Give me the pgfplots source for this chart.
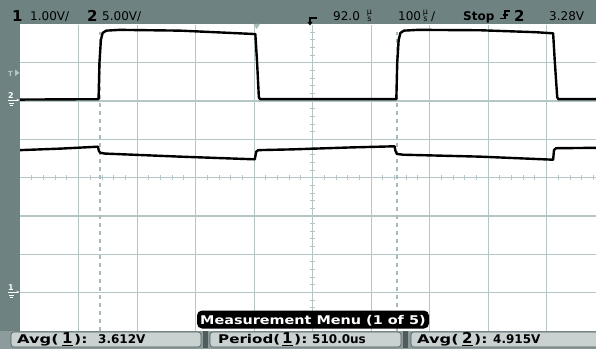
\documentclass[border=0pt]{standalone}
\usepackage{fontspec}
\setmainfont{DejaVu Sans}
\usepackage{pgfplots}
\pgfplotsset{compat=1.18}
\usetikzlibrary{arrows.meta}
\definecolor{barc}{HTML}{6E8282}
\definecolor{gridc}{HTML}{B4C6C6}
\definecolor{curc}{HTML}{A8BABA}
\definecolor{botbg}{HTML}{8C9C9C}
\definecolor{boxc}{HTML}{C9D1D1}
\definecolor{sepc}{HTML}{505C5C}
\newcommand{\tfont}{\fontsize{12}{14}\selectfont}
\newcommand{\bfont}{\fontsize{12}{14}\selectfont\bfseries}
\newcommand{\gfont}{\fontsize{15}{16}\selectfont\bfseries}
\newcommand{\sfont}{\fontsize{8}{5}\selectfont}
\begin{document}
\begin{tikzpicture}
\useasboundingbox (0,0) rectangle (596pt,349pt);
\fill[white] (0,0) rectangle (596pt,349pt);
\begin{axis}[at={(20pt,18.1pt)}, anchor=south west, scale only axis,
  width=576pt, height=306.4pt,
  xmin=-5.003, xmax=4.843, ymin=-4, ymax=4,
  xtick={-4,...,4}, ytick={-3,...,3},
  xticklabels={}, yticklabels={},
  grid=major, major grid style={gridc, line width=1.3pt},
  tick style={draw=none}, axis line style={draw=none}, clip=true]
\pgfplotsinvokeforeach{-4.8,-4.6,...,4.81}{\draw[gridc, line width=1pt] (axis cs:#1,-0.06) -- (axis cs:#1,0.06);}
\pgfplotsinvokeforeach{-3.8,-3.6,...,3.81}{\draw[gridc, line width=1pt] (axis cs:-0.04,#1) -- (axis cs:0.04,#1);}
\addplot[curc, line width=1.6pt, dash pattern=on 4pt off 4pt] coordinates {(-3.64,-4) (-3.64,3.8)};
\addplot[curc, line width=1.6pt, dash pattern=on 4pt off 4pt] coordinates {(1.44,-4) (1.44,3.8)};
% channel 2 (upper)
\addplot[black, line width=2.4pt, line join=round] coordinates {
(-5.00,2.04) (-3.66,2.05) (-3.645,3.0) (-3.62,3.6) (-3.59,3.78) (-3.53,3.84) (-3.3,3.86)
(-2.27,3.84) (-1.4,3.78) (-0.98,3.75) (-0.95,3.0) (-0.92,2.1) (-0.90,2.05)
(1.43,2.05) (1.445,3.0) (1.47,3.6) (1.50,3.78) (1.56,3.84) (1.8,3.86) (2.86,3.85)
(3.8,3.80) (4.11,3.77) (4.14,3.0) (4.18,2.1) (4.20,2.05) (4.84,2.05)};
% channel 1 (lower)
\addplot[black, line width=2.4pt, line join=round] coordinates {
(-5.00,0.72) (-4.3,0.76) (-3.67,0.81) (-3.655,0.70) (-3.63,0.65) (-3.55,0.63)
(-2.27,0.55) (-0.99,0.48) (-0.965,0.68) (-0.93,0.72) (-0.34,0.74) (0.64,0.79)
(1.40,0.82) (1.415,0.70) (1.44,0.62) (1.55,0.60) (2.86,0.55) (4.11,0.47)
(4.125,0.72) (4.16,0.77) (4.84,0.78)};
\end{axis}
\begin{scope}[x=1pt,y=1pt]
% top bar and left panel
\fill[barc] (0,325) rectangle (596,349);
\fill[barc] (0,18) rectangle (20,349);
% bottom bar
\fill[botbg] (0,0) rectangle (596,18.5);
\filldraw[fill=boxc, draw=sepc, line width=0.6pt, rounded corners=3pt] (11,2) rectangle (201,17);
\filldraw[fill=boxc, draw=sepc, line width=0.6pt, rounded corners=3pt] (210,2) rectangle (401,17);
\filldraw[fill=boxc, draw=sepc, line width=0.6pt, rounded corners=3pt] (411,2) rectangle (600,17);
\fill[sepc] (202.5,1) rectangle (207.5,18);
\fill[sepc] (403,1) rectangle (408,18);
% top bar texts
\node[anchor=base west, inner sep=0, font=\gfont] at (12,327.5) {1};
\node[anchor=base west, inner sep=0, font=\tfont] at (30,328.5) {1.00V/};
\node[anchor=base west, inner sep=0, font=\gfont] at (87,327.5) {2};
\node[anchor=base west, inner sep=0, font=\tfont] at (102,328.5) {5.00V/};
\draw[black, line width=1.2pt] (317,331) -- (310,331) -- (310,326);
\fill[black] (307.5,327) -- (312.5,327) -- (310,323.5) -- cycle;
\node[anchor=base west, inner sep=0, font=\tfont] at (333,328.5) {92.0};
\node[anchor=center, inner sep=0, align=center, font=\sfont] at (369.5,333.5) {µ\\s};
\node[anchor=base west, inner sep=0, font=\tfont] at (398,328.5) {100};
\node[anchor=center, inner sep=0, align=center, font=\sfont] at (425.5,333.5) {µ\\s};
\node[anchor=base west, inner sep=0, font=\tfont] at (431,328.5) {/};
\node[anchor=base west, inner sep=0, font=\bfont] at (463,328.5) {Stop};
\draw[black, line width=1.2pt] (500,330.5) -- (505,330.5) -- (505,338) -- (510,338);
\draw[black, line width=1.2pt] (502.5,334) -- (507.5,334);
\node[anchor=base west, inner sep=0, font=\gfont] at (514,327.5) {2};
\node[anchor=base west, inner sep=0, font=\tfont] at (549,328.5) {3.28V};
% trigger reference marker
\fill[curc] (253.5,325) -- (260,325) -- (256.7,320) -- cycle;
% left markers
\node[anchor=base west, inner sep=0, text=gridc, font=\fontsize{7}{7}\selectfont\bfseries] at (8,273) {T};
\fill[gridc] (15,279.5) -- (15,273) -- (19.5,276.2) -- cycle;
\node[anchor=base west, inner sep=0, text=white, font=\fontsize{8}{8}\selectfont\bfseries] at (8,250.5) {2};
\draw[white, line width=1pt, -{Stealth[length=3pt]}] (8,249) -- (19.5,249);
\draw[white, line width=0.7pt] (9,245.5) -- (14,245.5) (10,243.5) -- (13,243.5);
\node[anchor=base west, inner sep=0, text=white, font=\fontsize{8}{8}\selectfont\bfseries] at (8,58.5) {1};
\draw[white, line width=1pt, -{Stealth[length=3pt]}] (8,57) -- (19.5,57);
\draw[white, line width=0.7pt] (9,53.5) -- (14,53.5) (10,51.5) -- (13,51.5);
% bottom texts
\node[anchor=base west, inner sep=0, font=\bfont] at (17,5.7) {\scalebox{1.35}[1]{Avg(}};
\node[anchor=base west, inner sep=0, font=\gfont] at (62,5.7) {\underline{1}};
\node[anchor=base west, inner sep=0, font=\bfont] at (74,5.7) {\scalebox{1.3}[1]{):}};
\node[anchor=base west, inner sep=0, font=\bfont] at (98,5.7) {3.612V};
\node[anchor=base west, inner sep=0, font=\bfont] at (218,5.7) {\scalebox{1.26}[1]{Period(}};
\node[anchor=base west, inner sep=0, font=\gfont] at (282,5.7) {\underline{1}};
\node[anchor=base west, inner sep=0, font=\bfont] at (294,5.7) {\scalebox{1.3}[1]{):}};
\node[anchor=base west, inner sep=0, font=\bfont] at (312,5.7) {510.0us};
\node[anchor=base west, inner sep=0, font=\bfont] at (417,5.7) {\scalebox{1.35}[1]{Avg(}};
\node[anchor=base west, inner sep=0, font=\gfont] at (462,5.7) {\underline{2}};
\node[anchor=base west, inner sep=0, font=\bfont] at (474,5.7) {\scalebox{1.3}[1]{):}};
\node[anchor=base west, inner sep=0, font=\bfont] at (493,5.7) {4.915V};
% measurement menu
\fill[black, rounded corners=5pt] (197,20.5) rectangle (429,38.5);
\node[anchor=base west, inner sep=0, text=white, font=\bfont] at (200,25) {\scalebox{1.2}[1]{Measurement Menu (1 of 5)}};
\end{scope}
\end{tikzpicture}
\end{document}
